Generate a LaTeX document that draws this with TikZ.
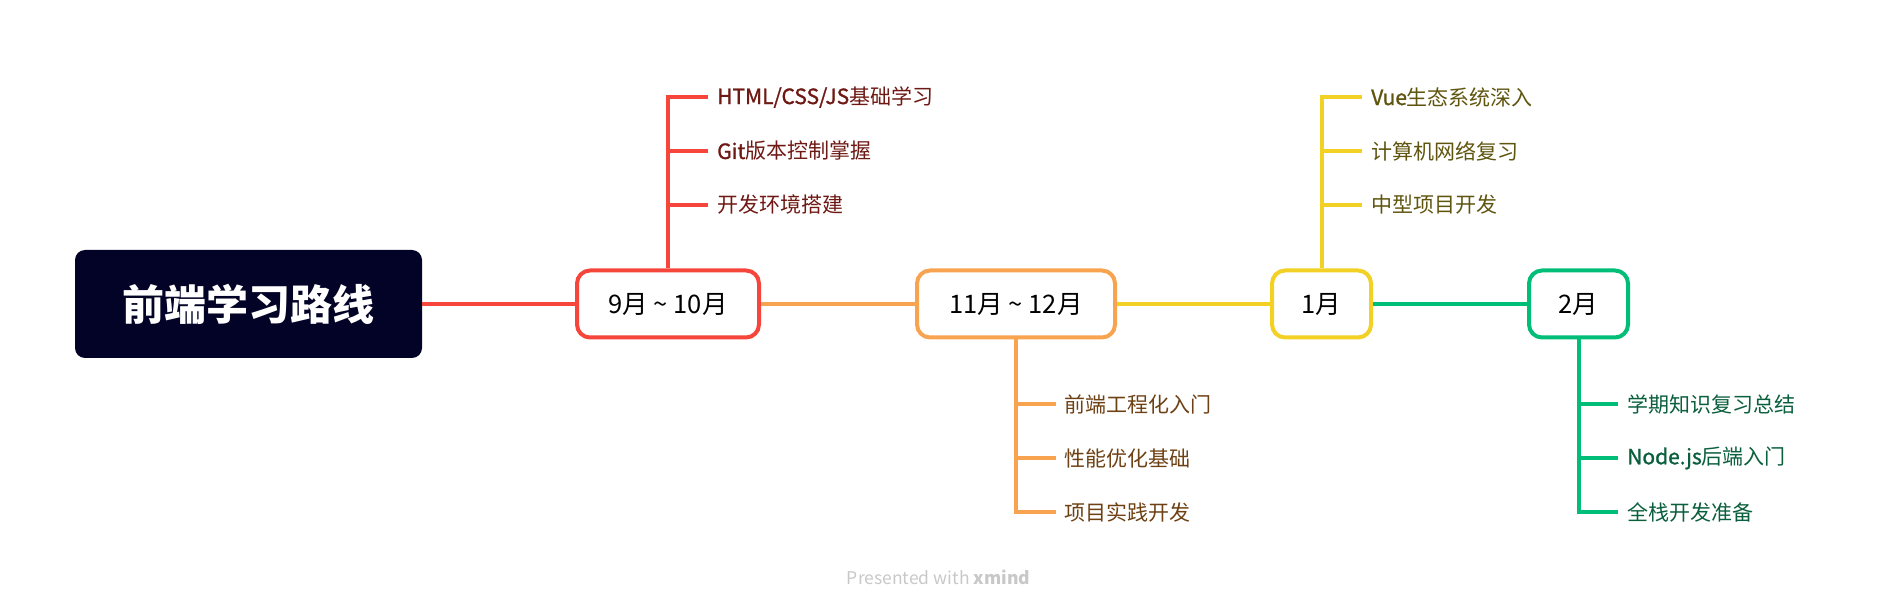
\documentclass[tikz,border=0pt]{standalone}
\usepackage{fontspec}
\setmainfont{Noto Sans CJK SC}
\newfontfamily\cjk{Noto Sans CJK SC}
\newfontfamily\cjkmid[FakeBold=1.2]{Noto Sans CJK SC}
\definecolor{cred}{RGB}{246,69,59}
\definecolor{corange}{RGB}{248,163,80}
\definecolor{cyellow}{RGB}{242,208,36}
\definecolor{cgreen}{RGB}{0,190,120}
\definecolor{tred}{RGB}{110,25,20}
\definecolor{torange}{RGB}{110,65,20}
\definecolor{tyellow}{RGB}{95,85,15}
\definecolor{tgreen}{RGB}{10,95,60}
\definecolor{navy}{RGB}{2,3,38}
\definecolor{wmgray}{RGB}{200,200,200}
\newcommand{\latmid}[1]{{\cjkmid #1}}
\begin{document}
\begin{tikzpicture}[x=1pt,y=-1pt,
  rootbox/.style={fill=navy, rounded corners=10pt, minimum width=347pt, minimum height=108pt, inner sep=0pt, text=white, font=\cjk\fontsize{42}{46}\selectfont\bfseries},
  month/.style={draw=#1, fill=white, line width=4pt, rounded corners=13pt, minimum height=67pt, inner sep=0pt, font=\cjk\fontsize{25.5}{28}\selectfont},
  leaf/.style={anchor=west, inner sep=0pt, text=#1, font=\cjk\fontsize{21}{24}\selectfont},
  conn/.style={draw=#1, line width=4pt},
]
\useasboundingbox (0,0) rectangle (1879,609);
\node[rootbox] (root) at (248.5,304) {前端学习路线};
\node[month=cred, minimum width=182pt] (n1) at (668,304) {9月 \textasciitilde{} 10月};
\node[month=corange, minimum width=198pt] (n2) at (1016,304) {11月 \textasciitilde{} 12月};
\node[month=cyellow, minimum width=99pt] (n3) at (1321.5,304) {1月};
\node[month=cgreen, minimum width=99pt] (n4) at (1578.5,304) {2月};

\node[leaf=tred] (a1) at (717,97) {\latmid{HTML/CSS/JS}基础学习};
\node[leaf=tred] (a2) at (717,151) {\latmid{Git}版本控制掌握};
\node[leaf=tred] (a3) at (717,205) {开发环境搭建};

\node[leaf=torange] (b1) at (1064,404) {前端工程化入门};
\node[leaf=torange] (b2) at (1064,458) {性能优化基础};
\node[leaf=torange] (b3) at (1064,512) {项目实践开发};

\node[leaf=tyellow] (c1) at (1371,97) {\latmid{Vue}生态系统深入};
\node[leaf=tyellow] (c2) at (1371,151) {计算机网络复习};
\node[leaf=tyellow] (c3) at (1371,205) {中型项目开发};

\node[leaf=tgreen] (d1) at (1627,404) {学期知识复习总结};
\node[leaf=tgreen] (d2) at (1627,458) {\latmid{Node.js}后端入门};
\node[leaf=tgreen] (d3) at (1627,512) {全栈开发准备};

\draw[conn=cred] (root.east) -- (n1.west);
\draw[conn=corange] (n1.east) -- (n2.west);
\draw[conn=cyellow] (n2.east) -- (n3.west);
\draw[conn=cgreen] (n3.east) -- (n4.west);

\foreach \l in {a1,a2,a3} \draw[conn=cred] (n1.north) |- ([xshift=-9pt]\l.west);
\foreach \l in {b1,b2,b3} \draw[conn=corange] (n2.south) |- ([xshift=-8pt]\l.west);
\foreach \l in {c1,c2,c3} \draw[conn=cyellow] (n3.north) |- ([xshift=-9pt]\l.west);
\foreach \l in {d1,d2,d3} \draw[conn=cgreen] (n4.south) |- ([xshift=-9pt]\l.west);

\node[text=wmgray, font=\cjk\fontsize{17.5}{20}\selectfont, inner sep=0pt] (wm) at (938.5,577) {Presented with \textbf{xmind}};
\end{tikzpicture}
\end{document}
